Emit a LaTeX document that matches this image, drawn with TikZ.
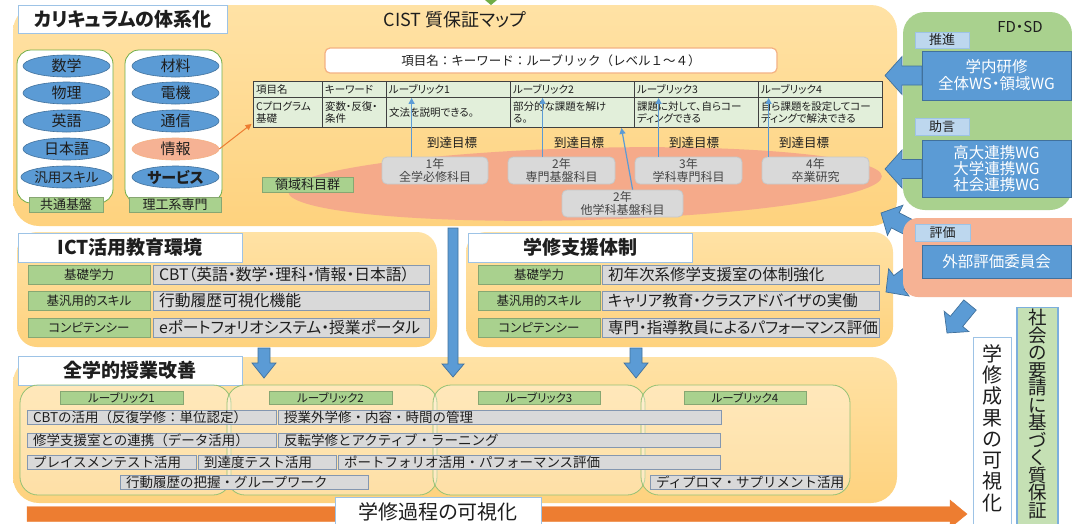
\documentclass[tikz,border=0pt]{standalone}
\usepackage{fontspec}
\setmainfont{Noto Sans CJK JP}[RawFeature=+palt]
\newfontfamily\fullw{Noto Sans CJK JP}
\usetikzlibrary{arrows.meta,calc,shapes.geometric}
\definecolor{panelTop}{RGB}{255,226,165}
\definecolor{panelBot}{RGB}{254,210,126}
\definecolor{bluefill}{RGB}{91,155,213}
\definecolor{blueedge}{RGB}{65,113,156}
\definecolor{greenfill}{RGB}{169,209,142}
\definecolor{greenedge}{RGB}{112,173,71}
\definecolor{grayfill}{RGB}{217,217,217}
\definecolor{grayedge}{RGB}{132,151,176}
\definecolor{lblue}{RGB}{189,215,238}
\definecolor{lblueedge}{RGB}{157,195,230}
\definecolor{salmonP}{RGB}{246,178,148}
\definecolor{orangeA}{RGB}{237,125,49}
\definecolor{keyedge}{RGB}{244,177,131}
\definecolor{tablefill}{RGB}{226,239,218}
\definecolor{fieldfill}{RGB}{245,170,138}
\definecolor{vgreen}{RGB}{197,224,180}
\definecolor{txt}{RGB}{30,30,30}
\definecolor{subtxt}{RGB}{70,70,70}
\newcommand\FS[2]{\fontsize{#1pt}{#2pt}\selectfont}
\newcommand\BlkArrow[6]{%
  \coordinate (baS) at (#2);
  \coordinate (baT) at (#3);
  \coordinate (baB) at ($(baT)!#6!(baS)$);
  \filldraw[#1] ($(baS)!#4!90:(baT)$) -- ($(baB)!#4!90:(baT)$) -- ($(baB)!#5!90:(baT)$) -- (baT)
    -- ($(baB)!#5!-90:(baT)$) -- ($(baB)!#4!-90:(baT)$) -- ($(baS)!#4!-90:(baT)$) -- cycle;}
\tikzset{
  panel/.style={rounded corners=26pt, top color=panelTop, bottom color=panelBot},
  titlebox/.style={draw=lblueedge, line width=0.9pt, fill=white, inner sep=0pt, text=txt, font=\FS{19}{22}\bfseries},
  col/.style={draw=greenedge, line width=0.8pt, fill=white, rounded corners=14pt},
  ellB/.style={ellipse, fill=bluefill, draw=blueedge, line width=0.6pt, minimum width=87pt, minimum height=22pt, inner sep=0pt, text=txt, font=\FS{15}{17}},
  glabel/.style={fill=greenfill, draw=greenfill!80!black, line width=0.5pt, inner sep=0pt, text=txt},
  cell/.style={draw=black!75, line width=0.9pt, fill=tablefill, inner xsep=3pt, inner ysep=0pt, align=left, text=txt, font=\FS{10.5}{12}},
  subj/.style={rounded corners=5pt, fill=grayfill, draw=black!22, line width=0.8pt, align=center, text=subtxt, font=\FS{12}{13.5}, inner sep=0pt},
  thinarr/.style={draw=bluefill, line width=1.2pt, -{Triangle[length=6pt,width=6pt]}},
  reach/.style={font=\FS{12.5}{14}, text=txt},
  smallbox/.style={fill=lblue, draw=lblueedge, line width=0.8pt, inner sep=0pt, font=\FS{13}{15}, text=txt},
  bluebox/.style={fill=bluefill, draw=blueedge, line width=0.9pt, inner sep=0pt, align=center, text=white, font=\FS{15.5}{17}},
  blk/.style={fill=bluefill, draw=blueedge, line width=0.7pt},
  gbox/.style={fill=grayfill, draw=grayedge, line width=0.9pt, inner xsep=6pt, inner ysep=0pt, align=left, text=txt},
  bbox/.style={gbox, minimum height=14, font=\fullw\FS{13.5}{14}},
  subpanel/.style={draw=greenedge!75, line width=0.8pt, fill=white, fill opacity=0.3, rounded corners=18pt},
}
\begin{document}
\begin{tikzpicture}[x=1pt,y=-1pt]
\useasboundingbox (0,0) rectangle (1072,523);
\clip (0,0) rectangle (1072,523);
\fill[white] (0,0) rectangle (1072,523);

% ---------- panels ----------
\path[panel] (13,5) rectangle (897,226);
\path[panel, rounded corners=20pt] (17,232) rectangle (437,347);
\path[panel, rounded corners=20pt] (466,232) rectangle (893,347);
\path[panel] (13,357) rectangle (897,503);

% ---------- top: curriculum ----------
\fill[greenedge] (485,0) -- (497,0) -- (491,5) -- cycle;
\node[titlebox, minimum width=209, minimum height=28] (curT) at (122.5,19) {カリキュラムの体系化};
\node[font=\FS{18}{20}, text=txt] (cist) at (455,20) {CIST 質保証マップ};

\draw[col] (17,50) rectangle (113,203);
\draw[col] (125,50) rectangle (222,203);
\node[ellB] (ea1) at (66.5,66) {数学};
\node[ellB] (ea2) at (66.5,93) {物理};
\node[ellB] (ea3) at (66.5,121) {英語};
\node[ellB] (ea4) at (66.5,149) {日本語};
\node[ellB, font=\FS{13.5}{16}] (ea5) at (66.5,177) {汎用スキル};
\node[ellB] (eb1) at (175.5,66) {材料};
\node[ellB] (eb2) at (175.5,93) {電機};
\node[ellB] (eb3) at (175.5,121) {通信};
\node[ellB, fill=salmonP, draw=keyedge] (eb4) at (175.5,149) {情報};
\node[ellB, font=\FS{15}{17}\bfseries] (eb5) at (175.5,177) {サービス};
\node[glabel, minimum width=74, minimum height=15, font=\FS{13}{15}] (kyotsu) at (66,204.5) {共通基盤};
\node[glabel, minimum width=92, minimum height=15, font=\FS{13}{15}] (riko) at (175,204.5) {理工系専門};

% key header
\node[draw=keyedge, line width=1.2pt, fill=white, rounded corners=5pt, minimum width=452, minimum height=25, inner sep=0pt, text=txt, font=\fullw\FS{12.5}{14}] (keyhdr) at (551,60.5) {項目名：キーワード：ルーブリック（レベル１～４）};

% table
\node[cell, text width=63, minimum height=16.5] (c11) at (287.5,89.25) {項目名};
\node[cell, text width=58, minimum height=16.5] (c12) at (354,89.25) {キーワード};
\node[cell, text width=118, minimum height=16.5] (c13) at (448,89.25) {ルーブリック1};
\node[cell, text width=118, minimum height=16.5] (c14) at (572,89.25) {ルーブリック2};
\node[cell, text width=118, minimum height=16.5] (c15) at (696,89.25) {ルーブリック3};
\node[cell, text width=118, minimum height=16.5] (c16) at (820,89.25) {ルーブリック4};
\node[cell, text width=63, minimum height=30] (c21) at (287.5,112.5) {Cプログラム\\基礎};
\node[cell, text width=58, minimum height=30] (c22) at (354,112.5) {変数・反復・\\条件};
\node[cell, text width=118, minimum height=30] (c23) at (448,112.5) {文法を説明できる。};
\node[cell, text width=118, minimum height=30] (c24) at (572,112.5) {部分的な課題を解け\\る。};
\node[cell, text width=118, minimum height=30] (c25) at (696,112.5) {課題に対して、自らコー\\ディングできる};
\node[cell, text width=118, minimum height=30] (c26) at (820,112.5) {自ら課題を設定してコー\\ディングで解決できる};

\draw[draw=orangeA, line width=1pt, -{Triangle[length=6pt,width=6pt]}] (eb4.east) -- ($(c21.south west)+(-1,-4)$);

% field ellipse
\node[ellipse, fill=fieldfill, minimum width=594, minimum height=72, inner sep=0pt, rotate=1.5] (field) at (585,184) {};
\node[glabel, minimum width=91, minimum height=15, font=\FS{13}{15}] (ryoiki) at (307.5,184.5) {領域科目群};

\node[subj, minimum width=106, minimum height=27] (s1) at (435,170.5) {1年\\全学必修科目};
\node[subj, minimum width=107, minimum height=27] (s2) at (561.5,170.5) {2年\\専門基盤科目};
\node[subj, minimum width=107, minimum height=27] (s3) at (688.5,170.5) {3年\\学科専門科目};
\node[subj, minimum width=107, minimum height=27] (s4) at (815.5,170.5) {4年\\卒業研究};
\node[subj, minimum width=121, minimum height=27] (s5) at (622.5,203.5) {2年\\他学科基盤科目};

\coordinate (a1) at ($(s1.north west)+(30,0)$);
\coordinate (a2) at ($(s2.north west)+(35,0)$);
\coordinate (a3) at ($(s3.north west)+(24,0)$);
\coordinate (a4) at ($(s4.north west)+(7,0)$);
\coordinate (a5) at ($(s5.north west)+(71,0)$);
\draw[thinarr] (a1) -- (a1 |- c13.south);
\draw[thinarr] (a2) -- (a2 |- c14.south);
\draw[thinarr] (a3) -- (a3 |- c15.south);
\draw[thinarr] (a4) -- (a4 |- c16.south);
\draw[thinarr] (a5) -- ($(c24.south east)+(-13,0)$);
\node[reach] (r1) at (452,143) {到達目標};
\node[reach] (r2) at (579,143) {到達目標};
\node[reach] (r3) at (694,143) {到達目標};
\node[reach] (r4) at (804,143) {到達目標};

% ---------- ICT ----------
\node[titlebox, minimum width=224, minimum height=29] (ictT) at (130,247.5) {ICT活用教育環境};
\node[glabel, minimum width=122, minimum height=19, font=\FS{12.5}{14}] (ig1) at (89,274.5) {基礎学力};
\node[glabel, minimum width=122, minimum height=19, font=\FS{12.5}{14}] (ig2) at (89,301) {基汎用的スキル};
\node[glabel, minimum width=122, minimum height=19, font=\FS{12.5}{14}] (ig3) at (89,327.5) {コンピテンシー};
\node[gbox, text width=264, minimum height=19, font=\FS{15.8}{17}] (it1) at (291,274.5) {CBT（英語・数学・理科・情報・日本語）};
\node[gbox, text width=264, minimum height=19, font=\FS{15.8}{17}] (it2) at (291,301) {行動履歴可視化機能};
\node[gbox, text width=264, minimum height=19, font=\FS{15.8}{17}] (it3) at (291,327.5) {eポートフォリオシステム・授業ポータル};

% ---------- support ----------
\node[titlebox, minimum width=224, minimum height=29] (supT) at (580,247.5) {学修支援体制};
\node[glabel, minimum width=122, minimum height=19, font=\FS{12.5}{14}] (kg1) at (539,274.5) {基礎学力};
\node[glabel, minimum width=122, minimum height=19, font=\FS{12.5}{14}] (kg2) at (539,301) {基汎用的スキル};
\node[glabel, minimum width=122, minimum height=19, font=\FS{12.5}{14}] (kg3) at (539,327.5) {コンピテンシー};
\node[gbox, text width=265, minimum height=19, font=\FS{15.5}{17}] (kt1) at (740.5,274.5) {初年次系修学支援室の体制強化};
\node[gbox, text width=265, minimum height=19, font=\FS{15.5}{17}] (kt2) at (740.5,301) {キャリア教育・クラスアドバイザの実働};
\node[gbox, text width=265, minimum height=19, font=\FS{15.5}{17}] (kt3) at (740.5,327.5) {専門・指導教員によるパフォーマンス評価};

% ---------- improvement ----------
\node[titlebox, minimum width=224, minimum height=29] (impT) at (130,370.5) {全学的授業改善};
\path[subpanel] (20,385) rectangle (231,495);
\path[subpanel] (227,385) rectangle (437,495);
\path[subpanel] (433,385) rectangle (645,495);
\path[subpanel] (641,385) rectangle (850,495);
\node[glabel, minimum width=123, minimum height=13, font=\FS{11.5}{13}] (rb1) at (121.5,397.5) {ルーブリック1};
\node[glabel, minimum width=123, minimum height=13, font=\FS{11.5}{13}] (rb2) at (330.5,397.5) {ルーブリック2};
\node[glabel, minimum width=122, minimum height=13, font=\FS{11.5}{13}] (rb3) at (539,397.5) {ルーブリック3};
\node[glabel, minimum width=122, minimum height=13, font=\FS{11.5}{13}] (rb4) at (745,397.5) {ルーブリック4};

\node[bbox, text width=237] (b11) at (151.5,417) {CBTの活用（反復学修：単位認定）};
\node[bbox, text width=431] (b12) at (499.5,417) {授業外学修・内容・時間の管理};
\node[bbox, text width=237] (b21) at (151.5,440) {修学支援室との連携（データ活用）};
\node[bbox, text width=430] (b22) at (499,440) {反転学修とアクティブ・ラーニング};
\node[bbox, text width=157] (b31) at (111.5,462) {プレイスメンテスト活用};
\node[bbox, text width=126] (b32) at (267,462) {到達度テスト活用};
\node[bbox, text width=370] (b33) at (529,462) {ポートフォリオ活用・パフォーマンス評価};
\node[bbox, text width=236] (b41) at (244,482) {行動履歴の把握・グループワーク};
\node[bbox, text width=180] (b42) at (746,482) {ディプロマ・サプリメント活用};

% ---------- block arrows (middle) ----------
\coordinate (v1s) at (453,228); \coordinate (v1t) at (453,377);
\coordinate (v2s) at (264,348); \coordinate (v2t) at (264,378);
\coordinate (v3s) at (636,348); \coordinate (v3t) at (636,378);
\BlkArrow{blk}{v1s}{v1t}{5pt}{11pt}{13pt}
\BlkArrow{blk}{v2s}{v2t}{6pt}{12pt}{15pt}
\BlkArrow{blk}{v3s}{v3t}{6pt}{12pt}{15pt}

% ---------- bottom arrow ----------
\coordinate (os) at (27,514); \coordinate (ot) at (967,514);
\BlkArrow{fill=orangeA, draw=orangeA}{os}{ot}{7.5pt}{14pt}{17pt}
\node[draw=lblueedge, fill=white, line width=0.9pt, minimum width=206, minimum height=28, inner sep=0pt, font=\FS{20}{22}, text=txt] (katei) at (438,511.5) {学修過程の可視化};

% ---------- FD / SD ----------
\path[fill=greenfill, rounded corners=22pt] (903,12) rectangle (1072,210);
\coordinate (f1s) at (922,75.5); \coordinate (f1t) at (885,75.5);
\coordinate (f2s) at (922,169); \coordinate (f2t) at (885,169);
\BlkArrow{blk}{f1s}{f1t}{9.5pt}{19pt}{17pt}
\BlkArrow{blk}{f2s}{f2t}{9.5pt}{19pt}{17pt}
\node[font=\FS{15}{17}, text=txt] (fdsd) at (1020,27) {FD・SD};
\node[smallbox, minimum width=54, minimum height=16] (suishin) at (942,40) {推進};
\node[bluebox, minimum width=149, minimum height=49] (kenshu) at (996.5,75.5) {学内研修\\全体WS・領域WG};
\node[smallbox, minimum width=54, minimum height=17] (jogen) at (942,126.5) {助言};
\node[bluebox, minimum width=149, minimum height=57, font=\FS{15.5}{16}] (renkei) at (996.5,168.5) {高大連携WG\\大学連携WG\\社会連携WG};

% ---------- evaluation ----------
\coordinate (e1s) at (920,233); \coordinate (e1t) at (881,213);
\coordinate (e2s) at (922,265); \coordinate (e2t) at (886,292);
\coordinate (e3s) at (970,305); \coordinate (e3t) at (947,333);
\BlkArrow{blk}{e1s}{e1t}{8.5pt}{17pt}{16pt}
\BlkArrow{blk}{e2s}{e2t}{8.5pt}{17pt}{16pt}
\BlkArrow{blk}{e3s}{e3t}{8pt}{16pt}{15pt}
\path[fill=salmonP, rounded corners=15pt] (903,218) rectangle (1090,297);
\node[smallbox, minimum width=55, minimum height=17] (hyoka) at (942.5,232.5) {評価};
\node[bluebox, minimum width=149, minimum height=33] (gaibu) at (996.5,261.5) {外部評価委員会};

% ---------- vertical boxes ----------
\node[draw=lblueedge, fill=white, line width=1pt, minimum width=38, minimum height=192, inner sep=0pt, anchor=north] (visbox) at (992,337) {};
\node[font=\FS{20}{21.3}, align=center, text=txt] (vistext) at (992,428) {学\\修\\成\\果\\の\\可\\視\\化};
\node[draw=bluefill!80, fill=vgreen, line width=1.2pt, minimum width=41, minimum height=222, inner sep=0pt, anchor=north] (socbox) at (1037.5,307) {};
\node[font=\FS{18.5}{17.5}, align=center, text=txt] (soctext) at (1037.5,414) {社\\会\\の\\要\\請\\に\\基\\づ\\く\\質\\保\\証};
\end{tikzpicture}
\end{document}
